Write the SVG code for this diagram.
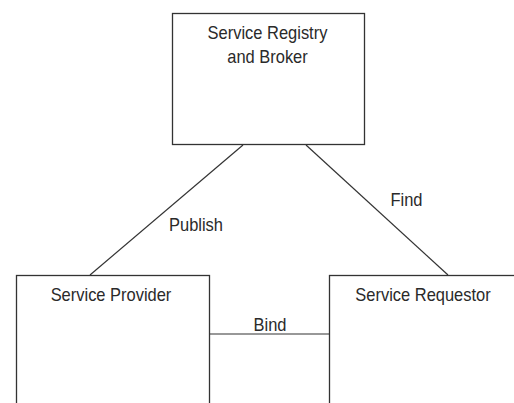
<svg xmlns="http://www.w3.org/2000/svg" width="514" height="403" viewBox="0 0 514 403">
  <style>
    .box { fill: #ffffff; stroke: #333333; stroke-width: 1.3; }
    .edge { fill: none; stroke: #333333; stroke-width: 1.2; }
    .label { font-family: "Liberation Sans", Arial, sans-serif; font-size: 18.5px; fill: #2a2a2a; text-anchor: middle; }
  </style>
  <rect width="514" height="403" fill="#ffffff"/>

  <g id="connectors">
    <line class="edge" x1="243" y1="145" x2="90" y2="275"/>
    <line class="edge" x1="306" y1="145" x2="448" y2="275"/>
    <line class="edge" x1="209" y1="334" x2="329" y2="334"/>
    <!-- labels use a slightly condensed face -->
    <text class="label" transform="translate(196,230.5) scale(0.89,1)">Publish</text>
    <text class="label" transform="translate(406.5,205.5) scale(0.89,1)">Find</text>
    <text class="label" transform="translate(270,330.5) scale(0.89,1)">Bind</text>
  </g>

  <g id="registry">
    <rect class="box" x="172.5" y="13.5" width="192" height="131"/>
    <text class="label" transform="translate(267.5,38.5) scale(0.89,1)">Service Registry</text>
    <text class="label" transform="translate(267.5,62.5) scale(0.89,1)">and Broker</text>
  </g>

  <g id="provider">
    <rect class="box" x="16.5" y="275.5" width="193" height="140"/>
    <text class="label" transform="translate(111,300.5) scale(0.89,1)">Service Provider</text>
  </g>

  <g id="requestor">
    <rect class="box" x="329.5" y="275.5" width="193" height="140"/>
    <text class="label" transform="translate(423,300.5) scale(0.89,1)">Service Requestor</text>
  </g>
</svg>
